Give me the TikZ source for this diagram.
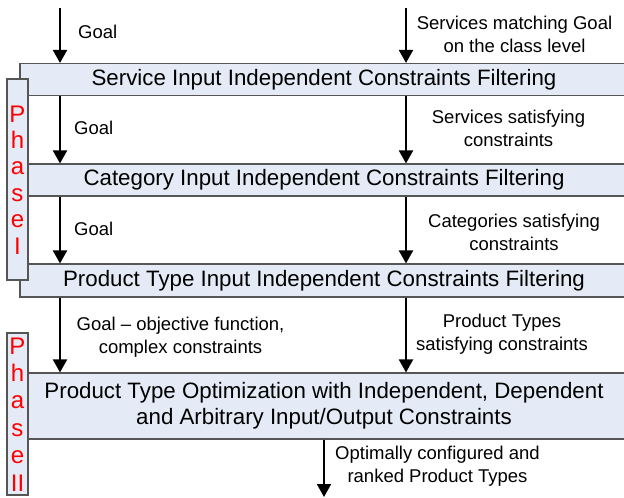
\documentclass[tikz,border=0pt]{standalone}
\usepackage{fontspec}
\setmainfont{Liberation Sans}
\usetikzlibrary{arrows.meta}
\definecolor{boxblue}{RGB}{229,235,246}
\definecolor{boxline}{RGB}{85,85,85}
\tikzset{
  stage/.style={draw=boxline,line width=1.1pt,fill=boxblue,minimum width=608pt,
    inner sep=0pt,align=center,font=\fontsize{22.3}{26}\selectfont},
  phasebar/.style={draw=boxline,line width=1.1pt,fill=boxblue,minimum width=21pt,inner sep=0pt},
  phasech/.style={text=red,anchor=base,inner sep=0pt,font=\fontsize{24}{24}\selectfont},
  flow/.style={line width=2pt,-{Triangle[width=14pt,length=13pt]}},
  lbl/.style={inner sep=0pt,align=center,font=\fontsize{18.5}{23}\selectfont},
}
\begin{document}
\begin{tikzpicture}[x=1pt,y=-1pt]
\clip (0,0) rectangle (624,498);
\fill[white] (0,0) rectangle (624,498);

% filtering and optimization stages
\node[stage,minimum height=32pt] (sif) at (324,79.5) {Service Input Independent Constraints Filtering};
\node[stage,minimum height=32pt] (cif) at (324,180) {Category Input Independent Constraints Filtering};
\node[stage,minimum height=33pt] (pif) at (324,280.5) {Product Type Input Independent Constraints Filtering};
\node[stage,minimum height=66pt] (pto) at (324,406) {Product Type Optimization with Independent, Dependent\\and Arbitrary Input/Output Constraints};

% phase bars on the left
\node[phasebar,minimum height=201pt] (ph1) at (17.5,179.5) {};
\node[phasebar,minimum height=162pt] (ph2) at (17.5,414) {};
\foreach \ch [count=\i from 0] in {P,h,a,s,e,I}
  \node[phasech] (ph1\i) at (17.5,122+26.4*\i) {\ch};
\foreach \ch [count=\i from 0] in {P,h,a,s,e,II}
  \node[phasech] (ph2\i) at (17.5,354+27.4*\i) {\ch};

% inputs from above
\coordinate (gin) at (60,8);
\coordinate (sin) at (406,8);
\coordinate (out) at (324,497);

\draw[flow] (gin) -- (gin |- sif.north);
\draw[flow] (sin) -- (sin |- sif.north);
\draw[flow] (sif.south -| gin) -- (cif.north -| gin);
\draw[flow] (sif.south -| sin) -- (cif.north -| sin);
\draw[flow] (cif.south -| gin) -- (pif.north -| gin);
\draw[flow] (cif.south -| sin) -- (pif.north -| sin);
\draw[flow] (pif.south -| gin) -- (pto.north -| gin);
\draw[flow] (pif.south -| sin) -- (pto.north -| sin);
\draw[flow] (pto.south) -- (out);

% arrow labels
\node[lbl,anchor=west] (g1) at (78,32) {Goal};
\node[lbl] (s1) at (514.5,34) {Services matching Goal\\on the class level};
\node[lbl,anchor=west] (g2) at (74,128) {Goal};
\node[lbl] (s2) at (508.5,128) {Services satisfying\\constraints};
\node[lbl,anchor=west] (g3) at (74,229) {Goal};
\node[lbl] (s3) at (514,232) {Categories satisfying\\constraints};
\node[lbl] (g4) at (180.5,337) {Goal -- objective function,\\complex constraints};
\node[lbl] (s4) at (502,334) {Product Types\\satisfying constraints};
\node[lbl] (o1) at (437.5,466.5) {Optimally configured and\\ranked Product Types};
\end{tikzpicture}
\end{document}
